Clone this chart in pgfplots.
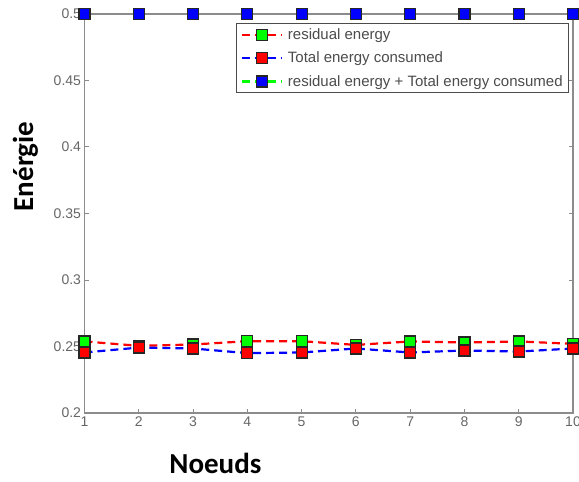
\documentclass[border=0pt]{standalone}
\usepackage{fontspec}
\setmainfont{Liberation Sans}
\newfontfamily\labfont{Carlito}
\usepackage{pgfplots}
\pgfplotsset{compat=1.18}
\begin{document}
\begin{tikzpicture}
\begin{axis}[name=ax, scale only axis, width=488.5pt, height=399pt,
  xmin=1, xmax=10, ymin=0.2, ymax=0.5,
  xtick={1,2,3,4,5,6,7,8,9,10},
  xticklabels={1,2,3,4,5,6,7,8,9,10},
  ytick={0.2,0.25,0.3,0.35,0.4,0.45,0.5},
  yticklabels={0.2,0.25,0.3,0.35,0.4,0.45,0.5},
  tick align=inside, major tick length=4pt,
  axis line style={draw=black!45, line width=1.3pt},
  tick style={black!45, line width=1pt},
  ticklabel style={font=\fontsize{14}{16}\selectfont, text=black!60},
  clip=false,
  xlabel={\labfont\bfseries\fontsize{29}{32}\selectfont Noeuds},
  ylabel={\labfont\bfseries\fontsize{29}{32}\selectfont Enérgie},
  every axis x label/.style={at={(axis description cs:0.268,-0.1504)}, anchor=base},
  every axis y label/.style={at={(axis description cs:-0.1054,0.618)}, anchor=base, rotate=90},
  legend style={at={(axis description cs:0.992,0.977)}, anchor=north east,
    draw=black!70, line width=0.8pt, font=\fontsize{15}{17}\selectfont, text=black!70,
    cells={anchor=west}, row sep=7pt, inner xsep=4pt, inner ysep=3pt},
  legend image code/.code={\draw[#1, mark repeat=2, mark phase=2] plot coordinates {(0pt,0pt) (20pt,0pt) (40pt,0pt)};},
  every axis plot/.append style={line width=2.2pt, dash pattern=on 8pt off 5pt, mark=square*, mark size=5.5pt},
]
\addplot[red, mark options={solid, fill=green, draw=black!85, line width=1.2pt}] coordinates {
  (1,0.2538) (2,0.2505) (3,0.2515) (4,0.2540) (5,0.2540) (6,0.2512) (7,0.2538) (8,0.2530) (9,0.2538) (10,0.2520)};
\addplot[blue, mark options={solid, fill=red, draw=black!85, line width=1.2pt}] coordinates {
  (1,0.2455) (2,0.2492) (3,0.2485) (4,0.2450) (5,0.2455) (6,0.2485) (7,0.2455) (8,0.2470) (9,0.2462) (10,0.2485)};
\addplot[green, mark options={solid, fill=blue, draw=black!85, line width=1.2pt}] coordinates {
  (1,0.5) (2,0.5) (3,0.5) (4,0.5) (5,0.5) (6,0.5) (7,0.5) (8,0.5) (9,0.5) (10,0.5)};
\draw[black!45, line width=2.6pt] (rel axis cs:0,1) -- (rel axis cs:1,1);
\addplot[only marks, forget plot, mark options={solid, fill=blue, draw=black!85, line width=1.2pt}] coordinates {
  (1,0.5) (2,0.5) (3,0.5) (4,0.5) (5,0.5) (6,0.5) (7,0.5) (8,0.5) (9,0.5) (10,0.5)};
\legend{\hspace{3pt}residual energy, \hspace{3pt}Total energy consumed, \hspace{3pt}residual energy + Total energy consumed}
\end{axis}
\pgfresetboundingbox
\path[use as bounding box] ([xshift=-84.5pt,yshift=-68pt]ax.south west) rectangle ([xshift=6pt,yshift=14pt]ax.north east);
\end{tikzpicture}
\end{document}
